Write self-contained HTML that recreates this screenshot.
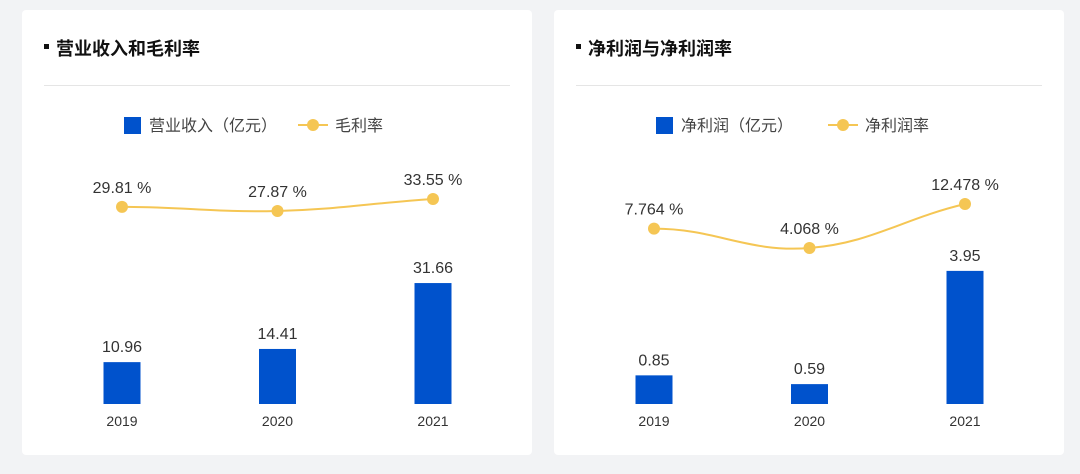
<!DOCTYPE html>
<html><head><meta charset="utf-8"><style>
body{margin:0;width:1080px;height:474px;background:#f2f3f5;font-family:"Liberation Sans","Noto Sans CJK SC",sans-serif;overflow:hidden}
.card{position:absolute;top:10px;width:510px;height:445px;background:#fff;border-radius:4px}
svg{position:absolute;left:0;top:0}
</style></head><body>
<div class="card" style="left:22px"></div>
<div class="card" style="left:554px"></div>
<svg width="1080" height="474" id="s"></svg>
<script>
const years=["2019","2020","2021"];
const revenue=[10.96,14.41,31.66];
const grossMargin=[29.81,27.87,33.55];
const netProfit=[0.85,0.59,3.95];
const netMargin=[7.764,4.068,12.478];
const NS="http://www.w3.org/2000/svg";
const svg=document.getElementById('s');
function mk(t,a,txt){const e=document.createElementNS(NS,t);for(const k in a)e.setAttribute(k,a[k]);if(txt!=null)e.textContent=txt;svg.appendChild(e);return e;}
function chart(o){
  const L=o.left;
  let e=mk('rect',{x:L+22,y:44,width:5,height:5,fill:'#111'});
  
  
  e=mk('text',{x:L+34,y:55,'font-size':18,'font-weight':'bold',fill:'#111'},o.title);
  
  
  e=mk('line',{x1:L+22,x2:L+488,y1:85.5,y2:85.5,stroke:'#e5e5e5'});
  
  
  // legend
  e=mk('rect',{x:L+o.lx,y:117,width:17,height:17,fill:'#0052cc'});
  
  
  e=mk('text',{x:L+o.lx+25,y:131,'font-size':16,fill:'#444'},o.barName);
  
  
  e=mk('line',{x1:L+o.lx2,x2:L+o.lx2+30,y1:125,y2:125,stroke:'#f5c654','stroke-width':2});
  
  
  e=mk('circle',{cx:L+o.lx2+15,cy:125,r:6,fill:'#f5c654'});
  
  
  e=mk('text',{x:L+o.lx2+37,y:131,'font-size':16,fill:'#444'},o.lineName);
  
  
  const xs=i=>L+100+i*155.5;
  const base=404;
  const yb=v=>base-v*o.bs;
  const yl=v=>o.ly0-(v-o.lv0)*o.ls;
  o.bars.forEach((v,i)=>{
    let r=mk('rect',{x:xs(i)-18.5,y:yb(v),width:37,height:base-yb(v),fill:'#0052cc'});
    
    
    let t=mk('text',{x:xs(i),y:yb(v)-10,'text-anchor':'middle','font-size':16,fill:'#333'},v.toFixed(2));
    
    
    let y=mk('text',{x:xs(i),y:426,'text-anchor':'middle','font-size':14,fill:'#333'},years[i]);
    
    
  });
  const pts=o.line.map((v,i)=>[xs(i),yl(v)]);
  let d='M'+pts[0];
  for(let i=1;i<pts.length;i++){const p=pts[i-1],q=pts[i],dx=(q[0]-p[0])/2.5;
    d+=` C${p[0]+dx},${p[1]+(i>1?(q[1]-pts[i-2][1])/5:0)} ${q[0]-dx},${q[1]-(i<pts.length-1?(pts[i+1][1]-p[1])/5:(q[1]-p[1])/3)} ${q[0]},${q[1]}`;}
  e=mk('path',{d:d,fill:'none',stroke:'#f5c654','stroke-width':2});
  
  
  o.line.forEach((v,i)=>{
    let c=mk('circle',{cx:pts[i][0],cy:pts[i][1],r:6,fill:'#f5c654'});
    
    
    let t=mk('text',{x:pts[i][0],y:pts[i][1]-14,'text-anchor':'middle','font-size':16,fill:'#333'},v.toFixed(o.dec)+' %');
    
    
  });
}
chart({key:'revenue',left:22,title:'营业收入和毛利率',barName:'营业收入（亿元）',lineName:'毛利率',lx:102,lx2:276,bars:revenue,line:grossMargin,bs:3.82,ly0:211,lv0:27.87,ls:2.11,dec:2});
chart({key:'profit',left:554,title:'净利润与净利润率',barName:'净利润（亿元）',lineName:'净利润率',lx:102,lx2:274,bars:netProfit,line:netMargin,bs:33.7,ly0:248,lv0:4.068,ls:5.23,dec:3});
</script>
</body></html>
